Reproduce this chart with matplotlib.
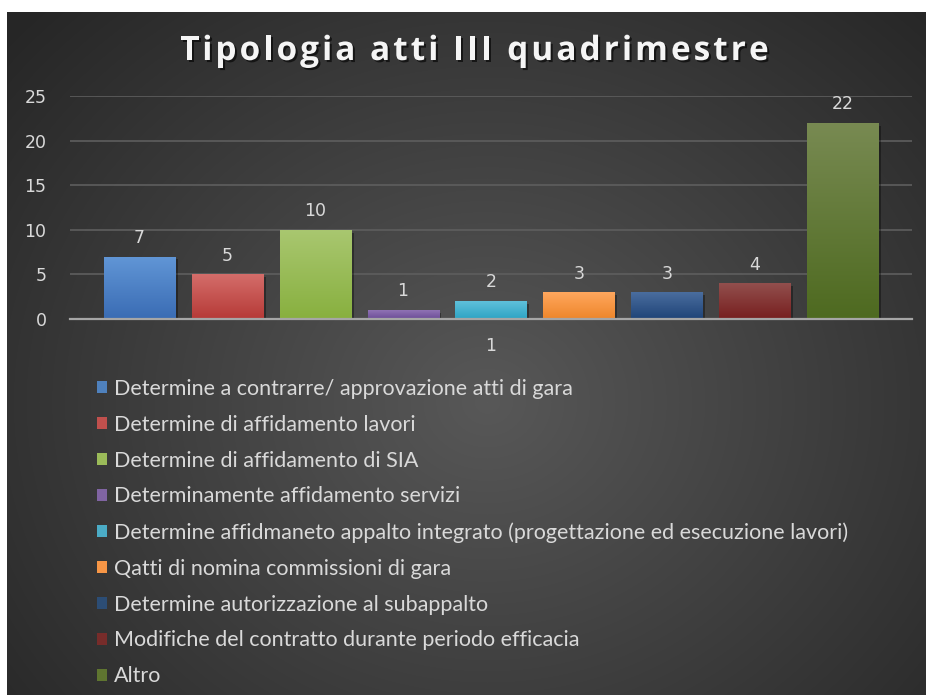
import numpy as np
import matplotlib
matplotlib.use("Agg")
import matplotlib.pyplot as plt
import matplotlib.patheffects as pe
from matplotlib.colors import to_rgb

# ---- data ----
categories = [
    "Determine a contrarre/ approvazione atti di gara",
    "Determine di affidamento lavori",
    "Determine di affidamento di SIA",
    "Determinamente affidamento servizi",
    "Determine affidmaneto appalto integrato (progettazione ed esecuzione lavori)",
    "Qatti di nomina commissioni di gara",
    "Determine autorizzazione al subappalto",
    "Modifiche del contratto durante periodo efficacia",
    "Altro",
]
values = [7, 5, 10, 1, 2, 3, 3, 4, 22]
group_label = "1"
title = "Tipologia atti III quadrimestre"
yticks = [0, 5, 10, 15, 20, 25]

top_colors = ["#6196d6", "#d46d6a", "#a9c770", "#8f73b4", "#5fc0da", "#ffa75e", "#4a6d9e", "#924f4d", "#788a52"]
bot_colors = ["#3a6cb4", "#b63a37", "#88b03f", "#6c4c97", "#2ea4c4", "#ee862a", "#1f4478", "#771f1f", "#4e6a20"]
mid_colors = ["#4f81bd", "#c0504d", "#9bbb59", "#8064a2", "#4bacc6", "#f79646", "#2c4d75", "#772c2a", "#5f7530"]

W, H = 926, 695
fig = plt.figure(figsize=(W / 100, H / 100), dpi=100, facecolor="white")

# ---- radial background ----
bg = fig.add_axes([7 / W, 0, 1 - 7 / W, 1 - 12 / H], zorder=-10)
bw, bh = W - 7, H - 12
yy, xx = np.mgrid[0:bh, 0:bw]
cx, cy = 480, 390
r = np.sqrt(((xx - cx) / 640.0) ** 2 + ((yy - cy) / 560.0) ** 2)
r = np.clip(r, 0, 1)
v = (88 - (88 - 38) * r) / 255.0
bg.imshow(np.dstack([v, v, v]), aspect="auto", extent=[0, 1, 0, 1], interpolation="bilinear")
bg.set_axis_off()

# ---- main axes ----
left, right = 70 / W, 912 / W
bottom, top = (H - 319) / H, (H - 96) / H
ax = fig.add_axes([left, bottom, right - left, top - bottom])
ax.set_facecolor("none")
ax.patch.set_alpha(0)

x = np.arange(len(values))
bars = []
for i, (cat, val) in enumerate(zip(categories, values)):
    b = ax.bar(x[i], val, width=0.81, color=mid_colors[i], label=cat, zorder=3,
               edgecolor="none")
    bars.append(b)
    for p in b.patches:
        x0, w, h = p.get_x(), p.get_width(), p.get_height()
        t = np.linspace(0, 1, 64)[:, None]
        c0, c1 = np.array(to_rgb(top_colors[i])), np.array(to_rgb(bot_colors[i]))
        grad = (c0[None, :] * (1 - t) + c1[None, :] * t)[:, None, :]
        im = ax.imshow(grad, extent=[x0, x0 + w, 0, h], aspect="auto", zorder=4,
                       interpolation="bilinear")
        im.set_clip_path(p)
    ax.bar_label(b, padding=7, color="#d9d9d9", fontsize=12.5, family="DejaVu Sans", zorder=5)

ax.set_xlim(-0.79, len(values) - 1 + 0.79)
ax.set_ylim(0, 25)
ax.set_yticks(yticks)
ax.set_xticks([(len(values) - 1) / 2])
ax.set_xticklabels([group_label])
ax.tick_params(axis="both", length=0, colors="#d9d9d9", labelsize=12.5)
ax.tick_params(axis="y", pad=17)
ax.tick_params(axis="x", pad=13)
for lab in ax.get_xticklabels() + ax.get_yticklabels():
    lab.set_family("DejaVu Sans")
ax.grid(axis="y", color="#5e5e5e", linewidth=1.2, zorder=0)
ax.set_axisbelow(True)
for s in ["top", "right", "left"]:
    ax.spines[s].set_visible(False)
ax.spines["bottom"].set_color("#a6a6a6")
ax.spines["bottom"].set_linewidth(1.6)
ax.spines["bottom"].set_zorder(6)

# ---- legend ----
handles = [b.patches[0] for b in bars]
leg = fig.legend(handles, categories, loc="upper left",
                 bbox_to_anchor=(97 / W, 1 - 379 / H), frameon=False,
                 fontsize=15.5, labelcolor="#d9d9d9",
                 handlelength=0.48, handleheight=0.48, handletextpad=0.3,
                 labelspacing=0.735, borderaxespad=0, borderpad=0)
for t in leg.get_texts():
    t.set_family("Lato")

# bar shadows (after the legend so the legend keys stay flat)
for b in bars:
    for p in b.patches:
        p.set_path_effects([pe.SimplePatchShadow(offset=(2, -2), alpha=0.35, shadow_rgbFace="black"), pe.Normal()])

# ---- title with letter spacing ----
renderer = fig.canvas.get_renderer()
tkw = dict(fontsize=24, fontweight="bold", family="Open Sans")
target_w = 588.0
def prefix_width(s):
    if not s:
        return 0.0
    tt = fig.text(0, 0, s.replace(" ", "\u00a0") + "|", **tkw)
    wtot = tt.get_window_extent(renderer).width
    tt.remove()
    tb = fig.text(0, 0, "|", **tkw)
    wb = tb.get_window_extent(renderer).width
    tb.remove()
    return wtot - wb
full_w = prefix_width(title)
n = len(title)
spacing = (target_w - full_w) / (n - 1)
x_start = 474 - target_w / 2
shadow = [pe.SimplePatchShadow(offset=(1.5, -1.5), alpha=0.6, shadow_rgbFace="black"), pe.Normal()]
for k, ch in enumerate(title):
    if ch == " ":
        continue
    px = x_start + prefix_width(title[:k]) + k * spacing
    fig.text(px / W, 1 - 60 / H, ch, ha="left", va="baseline", color="#f5f5f5",
             path_effects=shadow, **tkw)

fig.savefig("out.png", dpi=100, facecolor=fig.get_facecolor())
